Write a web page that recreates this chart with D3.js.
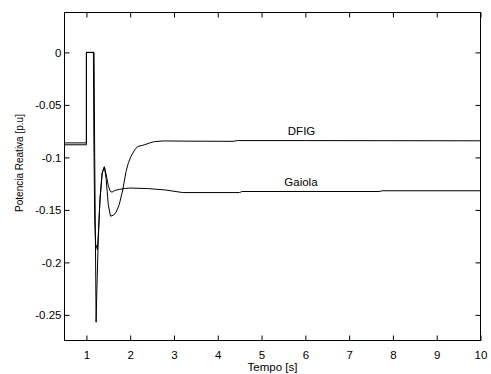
<!DOCTYPE html>
<html>
<head>
<meta charset="utf-8">
<script src="https://cdn.jsdelivr.net/npm/d3@7"></script>
<style>
  html, body { margin: 0; padding: 0; background: #fff; }
  svg text { font-family: "Liberation Sans", Arial, sans-serif; fill: #000; }
</style>
</head>
<body>
<div id="chart"></div>
<script>
// Reactive power response
const dfigTime = [0.5, 1.0, 1.0, 1.16, 1.17, 1.19, 1.215, 1.235, 1.25, 1.27, 1.31, 1.36, 1.41, 1.45, 1.50, 1.55,
  1.62, 1.68, 1.75, 1.83, 1.905, 1.96, 2.02, 2.10, 2.17, 2.25, 2.32, 2.45, 2.55, 2.76, 3.2, 4.35, 4.45, 6, 8, 10];
const dfigValue = [-0.0862, -0.0862, 0, 0, -0.08, -0.16, -0.186, -0.184, -0.188, -0.175, -0.140, -0.115, -0.109,
  -0.120, -0.145, -0.156, -0.155, -0.152, -0.145, -0.131, -0.1135, -0.105, -0.099, -0.093, -0.0897, -0.0888,
  -0.0881, -0.0862, -0.085, -0.0843, -0.0845, -0.0847, -0.0840, -0.0840, -0.0841, -0.0842];

const gaiolaTime = [0.5, 1.0, 1.0, 1.175, 1.19, 1.222, 1.24, 1.27, 1.31, 1.36, 1.41, 1.45, 1.50, 1.55, 1.586,
  1.65, 1.75, 1.9, 2.0, 2.4, 2.8, 3.2, 4.5, 4.55, 7.7, 7.75, 10];
const gaiolaValue = [-0.0880, -0.0880, 0, 0, -0.10, -0.257, -0.225, -0.18, -0.14, -0.115, -0.109, -0.116, -0.127,
  -0.1325, -0.1331, -0.1315, -0.1305, -0.1295, -0.1292, -0.1297, -0.131, -0.1335, -0.1335, -0.1325, -0.1325,
  -0.1318, -0.1318];

const xTicks = [1, 2, 3, 4, 5, 6, 7, 8, 9, 10];
const yTicks = [0, -0.05, -0.1, -0.15, -0.2, -0.25];
const yTickLabels = ['0', '-0.05', '-0.1', '-0.15', '-0.2', '-0.25'];

const seriesLabels = [
  { text: 'DFIG', x: 5.6, y: -0.079 },
  { text: 'Gaiola', x: 5.52, y: -0.127 }
];

const width = 491;
const height = 374;
const plot = { left: 64.5, right: 480.5, top: 12.5, bottom: 340.5 };
const tickLen = 5;
const fontSize = '11.5px';

const svg = d3.select('#chart')
  .append('svg')
  .attr('width', width)
  .attr('height', height)
  .attr('viewBox', `0 0 ${width} ${height}`);

const x = d3.scaleLinear().domain([0.5, 10]).range([plot.left, plot.right]);
const y = d3.scaleLinear().domain([-0.2744, 0.038]).range([plot.bottom, plot.top]);

// Axes with inward ticks (bottom + left carry labels, top + right only ticks)
const xAxisBottom = d3.axisBottom(x).tickValues(xTicks).tickSize(0).tickSizeOuter(0).tickPadding(10).tickFormat(d3.format('d'));
svg.append('g')
  .attr('transform', `translate(0,${plot.bottom})`)
  .call(xAxisBottom)
  .call(g => g.select('.domain').remove())
  .selectAll('text')
  .style('font-size', fontSize)
  .attr('font-family', null);

svg.append('g')
  .attr('transform', `translate(0,${plot.bottom})`)
  .call(d3.axisTop(x).tickValues(xTicks).tickSize(tickLen).tickSizeOuter(0).tickFormat(''))
  .call(g => g.select('.domain').remove());
svg.append('g')
  .attr('transform', `translate(0,${plot.top})`)
  .call(d3.axisBottom(x).tickValues(xTicks).tickSize(tickLen).tickSizeOuter(0).tickFormat(''))
  .call(g => g.select('.domain').remove());

svg.append('g')
  .attr('transform', `translate(${plot.left},0)`)
  .call(d3.axisLeft(y).tickValues(yTicks).tickSize(0).tickPadding(3).tickFormat((d, i) => yTickLabels[i]))
  .call(g => g.select('.domain').remove())
  .selectAll('text')
  .style('font-size', fontSize)
  .attr('font-family', null);

svg.append('g')
  .attr('transform', `translate(${plot.left},0)`)
  .call(d3.axisRight(y).tickValues(yTicks).tickSize(tickLen).tickSizeOuter(0).tickFormat(''))
  .call(g => g.select('.domain').remove());
svg.append('g')
  .attr('transform', `translate(${plot.right},0)`)
  .call(d3.axisLeft(y).tickValues(yTicks).tickSize(tickLen).tickSizeOuter(0).tickFormat(''))
  .call(g => g.select('.domain').remove());

svg.selectAll('.tick line').attr('stroke', '#000');

// Box
svg.append('rect')
  .attr('x', plot.left)
  .attr('y', plot.top)
  .attr('width', plot.right - plot.left)
  .attr('height', plot.bottom - plot.top)
  .attr('fill', 'none')
  .attr('stroke', '#000')
  .attr('stroke-width', 1);

// Lines
const line = d3.line()
  .x(d => x(d[0]))
  .y(d => y(d[1]));

const series = [
  d3.zip(dfigTime, dfigValue),
  d3.zip(gaiolaTime, gaiolaValue)
];

svg.selectAll('.series')
  .data(series)
  .enter()
  .append('path')
  .attr('class', 'series')
  .attr('d', line)
  .attr('fill', 'none')
  .attr('stroke', '#000')
  .attr('stroke-width', 1);

// In-plot labels
svg.selectAll('.series-label')
  .data(seriesLabels)
  .enter()
  .append('text')
  .attr('class', 'series-label')
  .attr('x', d => x(d.x))
  .attr('y', d => y(d.y))
  .style('font-size', fontSize)
  .text(d => d.text);

// Axis titles
svg.append('text')
  .attr('x', (plot.left + plot.right) / 2)
  .attr('y', 371)
  .attr('text-anchor', 'middle')
  .style('font-size', fontSize)
  .text('Tempo [s]');

svg.append('text')
  .attr('transform', 'translate(23,163) rotate(-90)')
  .attr('text-anchor', 'middle')
  .style('font-size', '10px')
  .text('Potencia Reativa [p.u]');
</script>
</body>
</html>
